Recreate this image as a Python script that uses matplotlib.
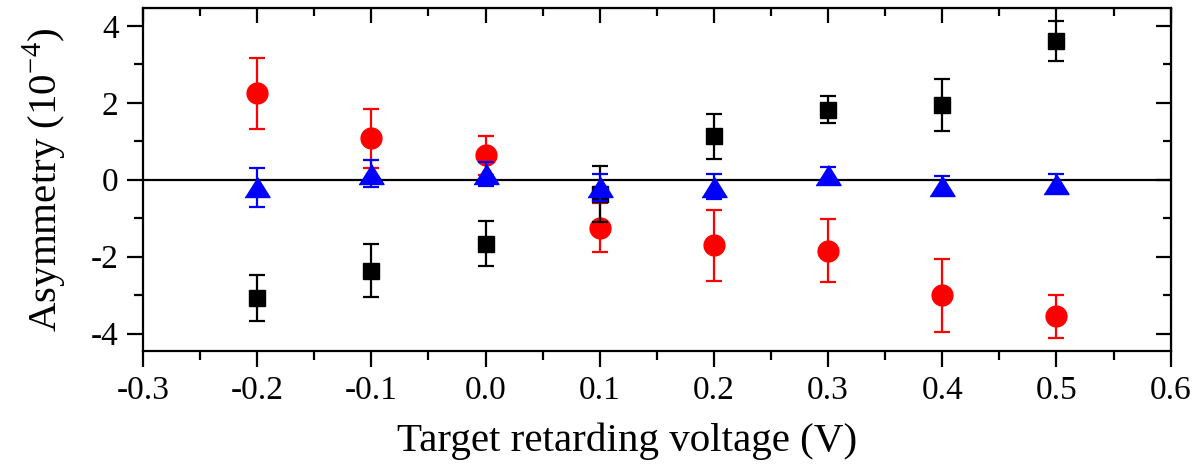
import numpy as np
import matplotlib
matplotlib.use("Agg")
import matplotlib.pyplot as plt
from matplotlib.ticker import MultipleLocator

# data (asymmetry in units of 1e-4)
voltage = [-0.2, -0.1, 0.0, 0.1, 0.2, 0.3, 0.4, 0.5]

black_val = [-3.08, -2.36, -1.66, -0.38, 1.13, 1.82, 1.94, 3.60]
black_err = [0.60, 0.69, 0.58, 0.73, 0.58, 0.35, 0.67, 0.52]

red_val = [2.25, 1.08, 0.63, -1.25, -1.70, -1.84, -3.00, -3.55]
red_err = [0.92, 0.77, 0.50, 0.64, 0.92, 0.82, 0.95, 0.55]

blue_val = [-0.20, 0.15, 0.15, -0.20, -0.18, 0.12, -0.15, -0.10]
blue_err = [0.51, 0.35, 0.32, 0.35, 0.32, 0.22, 0.25, 0.24]

plt.rcParams['font.family'] = ['Liberation Serif', 'DejaVu Serif']
plt.rcParams['mathtext.fontset'] = 'custom'
plt.rcParams['mathtext.rm'] = 'Liberation Serif'
plt.rcParams['axes.unicode_minus'] = False

fig = plt.figure(figsize=(11.97, 4.72), dpi=100)
ax = fig.add_axes([0.1195, 0.2564, 0.8585, 0.7256])

ax.axhline(0, color='black', lw=1.6, zorder=1)

# wide, flat triangle like the original
tri = [(-1, -0.8), (1, -0.8), (0, 0.8)]

common = dict(ls='none', elinewidth=1.6, capsize=6, capthick=1.6)
ax.errorbar(voltage, red_val, yerr=red_err, fmt='o', color='red',
            ms=15, zorder=2, **common)
ax.errorbar(voltage, black_val, yerr=black_err, fmt='s', color='black',
            ms=12, zorder=3, **common)
ax.errorbar(voltage, blue_val, yerr=blue_err, marker=tri, color='blue',
            ms=18, zorder=4, **common)

ax.set_xlim(-0.3, 0.6)
ax.set_ylim(-4.45, 4.45)
ax.xaxis.set_major_locator(MultipleLocator(0.1))
ax.xaxis.set_minor_locator(MultipleLocator(0.05))
ax.yaxis.set_major_locator(MultipleLocator(2))
ax.yaxis.set_minor_locator(MultipleLocator(1))
ax.set_xticks(ax.get_xticks())
ax.set_xticklabels([f"{v:.1f}" for v in ax.get_xticks()])
ax.set_xlim(-0.3, 0.6)

for s in ax.spines.values():
    s.set_linewidth(1.6)

ax.tick_params(which='both', direction='out', width=1.6, labelsize=24,
               top=False, right=False)
ax.tick_params(which='major', length=11.5)
ax.tick_params(which='minor', length=6.5)
ax.tick_params(axis='x', pad=6)
ax.tick_params(axis='y', pad=6)

# mirrored inward ticks on top and right
axt = ax.secondary_xaxis('top')
axt.xaxis.set_major_locator(MultipleLocator(0.1))
axt.xaxis.set_minor_locator(MultipleLocator(0.05))
axt.tick_params(which='both', direction='in', width=1.6, labeltop=False)
axt.tick_params(which='major', length=11)
axt.tick_params(which='minor', length=6)
axr = ax.secondary_yaxis('right')
axr.yaxis.set_major_locator(MultipleLocator(2))
axr.yaxis.set_minor_locator(MultipleLocator(1))
axr.tick_params(which='both', direction='in', width=1.6, labelright=False)
axr.tick_params(which='major', length=11)
axr.tick_params(which='minor', length=6)

ax.set_xlabel('Target retarding voltage (V)', fontsize=29.5)
ax.xaxis.set_label_coords(0.471, -0.21)
ax.set_ylabel(r'Asymmetry (10$^{-4}$)', fontsize=29.5, labelpad=16)

fig.savefig('out.png', dpi=100)
